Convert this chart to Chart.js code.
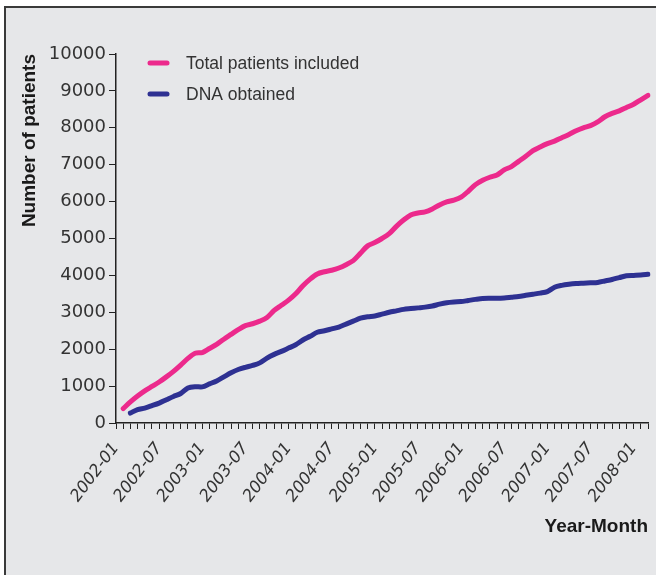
<!DOCTYPE html>
<html><head><meta charset="utf-8">
<script src="https://cdn.jsdelivr.net/npm/chart.js@4.4.0/dist/chart.umd.min.js"></script>
<style>
html,body{margin:0;padding:0;background:#fff;width:656px;height:575px;overflow:hidden;}
#frame{position:absolute;left:4px;top:6px;width:700px;height:620px;background:#e6e7e9;border-left:2px solid #3a3a3a;border-top:2px solid #3a3a3a;}
#c{position:absolute;left:0;top:0;}
</style></head><body>
<div id="frame"></div>
<canvas id="c" width="656" height="575"></canvas>
<script>
const months = [
 '2002-01','2002-02','2002-03','2002-04','2002-05','2002-06','2002-07','2002-08','2002-09','2002-10','2002-11','2002-12',
 '2003-01','2003-02','2003-03','2003-04','2003-05','2003-06','2003-07','2003-08','2003-09','2003-10','2003-11','2003-12',
 '2004-01','2004-02','2004-03','2004-04','2004-05','2004-06','2004-07','2004-08','2004-09','2004-10','2004-11','2004-12',
 '2005-01','2005-02','2005-03','2005-04','2005-05','2005-06','2005-07','2005-08','2005-09','2005-10','2005-11','2005-12',
 '2006-01','2006-02','2006-03','2006-04','2006-05','2006-06','2006-07','2006-08','2006-09','2006-10','2006-11','2006-12',
 '2007-01','2007-02','2007-03','2007-04','2007-05','2007-06','2007-07','2007-08','2007-09','2007-10','2007-11','2007-12',
 '2008-01','2008-02','2008-03'
];
const totalIncluded = [
 null,390,570,730,870,990,1110,1250,1400,1570,1750,1890,
 1910,2020,2130,2270,2400,2530,2640,2690,2760,2860,3050,3190,
 3330,3500,3720,3900,4040,4100,4140,4200,4290,4400,4600,4800,
 4890,5000,5130,5330,5500,5640,5690,5720,5800,5910,5990,6040,
 6120,6280,6460,6580,6660,6720,6860,6950,7090,7230,7380,7480,
 7570,7640,7730,7820,7920,8000,8060,8160,8300,8390,8460,8550,
 8640,8760,8880
];
const dnaObtained = [
 null,null,270,365,405,470,540,630,720,800,950,985,
 980,1060,1140,1250,1360,1450,1510,1560,1630,1760,1860,1940,
 2030,2120,2250,2350,2460,2500,2550,2600,2680,2760,2840,2880,
 2900,2950,3000,3040,3080,3100,3120,3140,3170,3220,3260,3280,
 3290,3320,3350,3375,3380,3380,3390,3410,3430,3460,3490,3520,
 3560,3680,3730,3760,3780,3790,3800,3810,3850,3890,3940,3990,
 4000,4010,4030
];
const yTicks = [0,1000,2000,3000,4000,5000,6000,7000,8000,9000,10000];
const shownMonthSuffixes = ['-01','-07'];

const insideLegend = {
  id:'insideLegend',
  afterDatasetsDraw(chart){
    const {ctx, chartArea:a} = chart;
    chart.data.datasets.forEach((ds,k)=>{
      const y = a.top + 9 + k*31;
      ctx.save();
      ctx.strokeStyle = ds.borderColor; ctx.lineWidth = 5; ctx.lineCap = 'round';
      ctx.beginPath(); ctx.moveTo(a.left+34, y); ctx.lineTo(a.left+51, y); ctx.stroke();
      ctx.fillStyle = '#333'; ctx.font = '17.5px "Liberation Sans"'; ctx.textBaseline = 'middle';
      ctx.fillText(ds.label, a.left+70, y+1);
      ctx.restore();
    });
  }
};

new Chart(document.getElementById('c'), {
  type:'line',
  data:{labels:months, datasets:[
    {label:'Total patients included', data:totalIncluded, borderColor:'#ec2a8c', borderWidth:5, pointRadius:0, tension:0.3, borderCapStyle:'round', borderJoinStyle:'round'},
    {label:'DNA obtained', data:dnaObtained, borderColor:'#2e3192', borderWidth:5, pointRadius:0, tension:0.3, borderCapStyle:'round', borderJoinStyle:'round'}
  ]},
  options:{
    responsive:false, animation:false, devicePixelRatio:1,
    layout:{padding:{left:0, top:54, right:8, bottom:0}},
    plugins:{legend:{display:false}, tooltip:{enabled:false}},
    scales:{
      x:{
        type:'category', offset:false,
        grid:{display:true, drawOnChartArea:false, drawTicks:true, tickLength:6, color:'#222', lineWidth:1},
        border:{display:true, color:'#222', width:1.5},
        ticks:{autoSkip:false, maxRotation:53, minRotation:53, padding:10, color:'#333',
          font:{family:'DejaVu Sans', size:16.5, style:'italic'},
          callback:function(v){const l=this.getLabelForValue(v); return shownMonthSuffixes.some(s=>l.endsWith(s)) ? l : '';}},
        title:{display:true, text:'Year-Month', align:'end', color:'#1a1a1a',
          font:{family:'Liberation Sans', size:19, weight:'bold'}, padding:{top:0,bottom:37}},
        afterFit(s){s.height=152; s.paddingLeft=0; s.paddingRight=0;}
      },
      y:{
        min:0, max:10000,
        afterBuildTicks(s){s.ticks = yTicks.map(v=>({value:v}));},
        ticks:{padding:3, color:'#333', font:{family:'DejaVu Sans', size:18}, callback:(v)=>String(v)},
        grid:{drawOnChartArea:false, drawTicks:true, tickLength:7, color:'#222'},
        border:{display:true, color:'#222', width:1.5},
        title:{display:true, text:'Number of patients', align:'end', color:'#1a1a1a',
          font:{family:'Liberation Sans', size:19, weight:'bold'}, padding:{top:18,bottom:0}},
        afterFit(s){s.width=116; s.paddingTop=0; s.paddingBottom=0;}
      }
    }
  },
  plugins:[insideLegend]
});
</script>
</body></html>
